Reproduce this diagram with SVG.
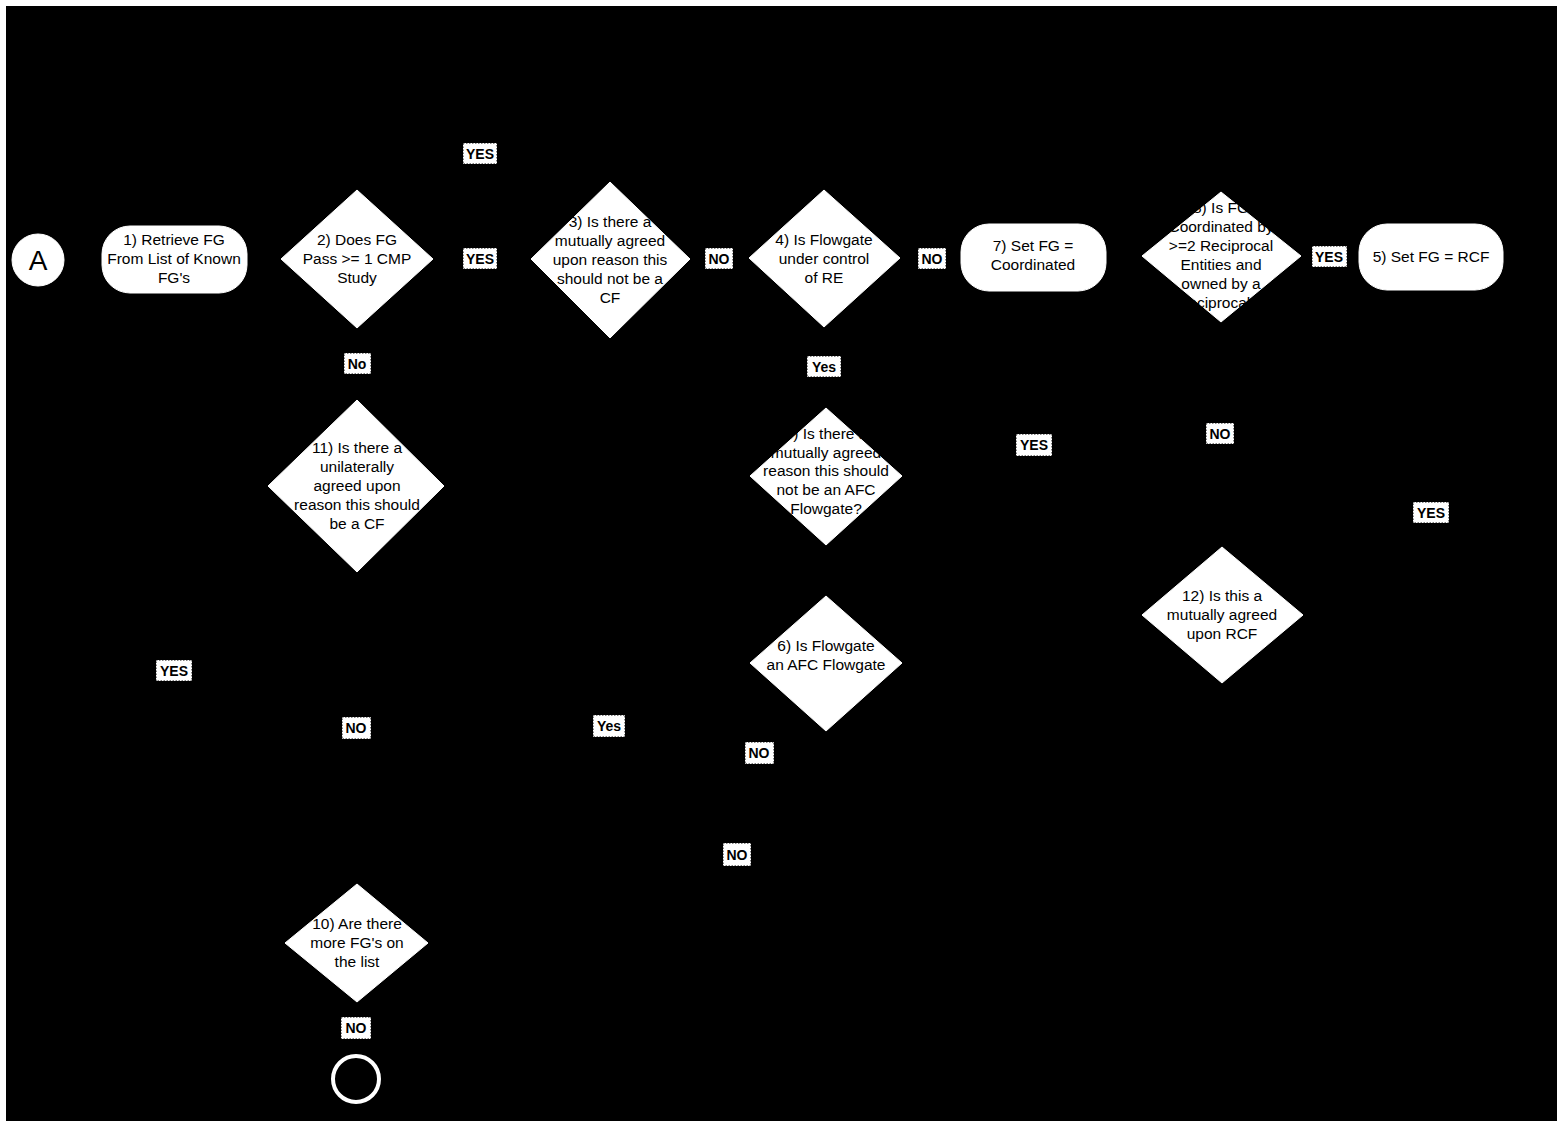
<svg xmlns="http://www.w3.org/2000/svg" width="1557" height="1121" viewBox="0 0 1557 1121">
<defs>
<style>
.bg{fill:#000}
.shape{fill:#fff;stroke:#fff;stroke-width:1}
.t{font-family:"Liberation Sans",Arial,sans-serif;font-size:15.5px;fill:#000;text-anchor:middle}
.lbl{fill:#fff;stroke:#000;stroke-width:1;stroke-dasharray:1.5 1.5}
.lt{font-family:"Liberation Sans",Arial,sans-serif;font-size:14px;font-weight:bold;fill:#000;text-anchor:middle}
.c{fill:none;stroke:#000;stroke-width:1.5}
</style>
<marker id="ah" markerWidth="8" markerHeight="8" refX="7" refY="4" orient="auto"><path d="M0,0 L8,4 L0,8 z" fill="#000"/></marker>
</defs>
<rect x="0" y="0" width="1557" height="1121" fill="#fff"/>
<rect class="bg" x="6" y="6" width="1551" height="1115"/>

<g id="connectors">
<path class="c" d="M64,260 L102,260" marker-end="url(#ah)"/>
<path class="c" d="M247,260 L281,260" marker-end="url(#ah)"/>
<path class="c" d="M433,259 L531,259" marker-end="url(#ah)"/>
<path class="c" d="M690,259 L749,259" marker-end="url(#ah)"/>
<path class="c" d="M900,258 L961,258" marker-end="url(#ah)"/>
<path class="c" d="M1106,257 L1142,257" marker-end="url(#ah)"/>
<path class="c" d="M1301,256 L1359,256" marker-end="url(#ah)"/>
<path class="c" d="M357,328 L357,400" marker-end="url(#ah)"/>
<path class="c" d="M823,327 L826,408" marker-end="url(#ah)"/>
<path class="c" d="M902,476 L1034,476 L1034,291" marker-end="url(#ah)"/>
<path class="c" d="M1221,322 L1222,547" marker-end="url(#ah)"/>
<path class="c" d="M1303,615 L1431,615 L1431,290" marker-end="url(#ah)"/>
<path class="c" d="M826,545 L826,596" marker-end="url(#ah)"/>
<path class="c" d="M357,572 L357,884" marker-end="url(#ah)"/>
<path class="c" d="M610,338 L610,800 L357,800" marker-end="url(#ah)"/>
<path class="c" d="M759,663 L759,854 L357,854" marker-end="url(#ah)"/>
<path class="c" d="M357,1002 L357,1055" marker-end="url(#ah)"/>
<path class="c" d="M285,943 L174,943 L174,293" marker-end="url(#ah)"/>
<path class="c" d="M444,486 L479,486 L479,153 L610,153 L610,182" marker-end="url(#ah)"/>
</g>

<g id="nodeA">
<circle class="shape" cx="38" cy="260" r="26"/>
<text class="t" x="38" y="270" style="font-size:28px">A</text>
</g>

<g id="node1">
<rect class="shape" x="102" y="226" width="145" height="67" rx="28"/>
<text class="t" x="174" y="245">1) Retrieve FG</text>
<text class="t" x="174" y="264">From List of Known</text>
<text class="t" x="174" y="283">FG's</text>
</g>

<g id="node2">
<polygon class="shape" points="357,190 433,259 357,328 281,259"/>
<text class="t" x="357" y="245">2) Does FG</text>
<text class="t" x="357" y="264">Pass &gt;= 1 CMP</text>
<text class="t" x="357" y="283">Study</text>
</g>

<g id="node3">
<polygon class="shape" points="610,182 690,259 610,338 531,259"/>
<text class="t" x="610" y="227">3) Is there a</text>
<text class="t" x="610" y="246">mutually agreed</text>
<text class="t" x="610" y="265">upon reason this</text>
<text class="t" x="610" y="284">should not be a</text>
<text class="t" x="610" y="303">CF</text>
</g>

<g id="node4">
<polygon class="shape" points="824,190 900,258 824,327 749,258"/>
<text class="t" x="824" y="245">4) Is Flowgate</text>
<text class="t" x="824" y="264">under control</text>
<text class="t" x="824" y="283">of RE</text>
</g>

<g id="node7">
<rect class="shape" x="961" y="224" width="145" height="67" rx="28"/>
<text class="t" x="1033" y="251">7) Set FG =</text>
<text class="t" x="1033" y="270">Coordinated</text>
</g>

<g id="node8">
<polygon class="shape" points="1221,192 1301,256 1221,322 1142,256"/>
<text class="t" x="1221" y="213">8) Is FG</text>
<text class="t" x="1221" y="232">Coordinated by</text>
<text class="t" x="1221" y="251">&gt;=2 Reciprocal</text>
<text class="t" x="1221" y="270">Entities and</text>
<text class="t" x="1221" y="289">owned by a</text>
<text class="t" x="1221" y="308">Reciprocal E</text>
</g>

<g id="node5">
<rect class="shape" x="1359" y="224" width="144" height="66" rx="28"/>
<text class="t" x="1431" y="262">5) Set FG = RCF</text>
</g>

<g id="node11">
<polygon class="shape" points="357,400 444,486 357,572 268,486"/>
<text class="t" x="357" y="453">11) Is there a</text>
<text class="t" x="357" y="472">unilaterally</text>
<text class="t" x="357" y="491">agreed upon</text>
<text class="t" x="357" y="510">reason this should</text>
<text class="t" x="357" y="529">be a CF</text>
</g>

<g id="node9">
<polygon class="shape" points="826,408 902,476 826,545 750,476"/>
<text class="t" x="826" y="439">9) Is there a</text>
<text class="t" x="826" y="458">mutually agreed</text>
<text class="t" x="826" y="476">reason this should</text>
<text class="t" x="826" y="495">not be an AFC</text>
<text class="t" x="826" y="514">Flowgate?</text>
</g>

<g id="node12">
<polygon class="shape" points="1222,547 1303,615 1222,683 1142,615"/>
<text class="t" x="1222" y="601">12) Is this a</text>
<text class="t" x="1222" y="620">mutually agreed</text>
<text class="t" x="1222" y="639">upon RCF</text>
</g>

<g id="node6">
<polygon class="shape" points="826,596 902,663 826,731 750,663"/>
<text class="t" x="826" y="651">6) Is Flowgate</text>
<text class="t" x="826" y="670">an AFC Flowgate</text>
</g>

<g id="node10">
<polygon class="shape" points="357,884 428,943 357,1002 285,943"/>
<text class="t" x="357" y="929">10) Are there</text>
<text class="t" x="357" y="948">more FG's on</text>
<text class="t" x="357" y="967">the list</text>
</g>

<g id="nodeEnd">
<circle cx="356" cy="1079" r="23" fill="#000" stroke="#fff" stroke-width="4"/>
</g>

<g id="labels">
<rect class="lbl" x="463" y="143" width="34" height="21"/><text class="lt" x="480" y="159">YES</text>
<rect class="lbl" x="463" y="248" width="34" height="21"/><text class="lt" x="480" y="264">YES</text>
<rect class="lbl" x="705" y="248" width="28" height="21"/><text class="lt" x="719" y="264">NO</text>
<rect class="lbl" x="918" y="248" width="28" height="21"/><text class="lt" x="932" y="264">NO</text>
<rect class="lbl" x="1312" y="246" width="35" height="21"/><text class="lt" x="1329" y="262">YES</text>
<rect class="lbl" x="344" y="353" width="27" height="21"/><text class="lt" x="357" y="369">No</text>
<rect class="lbl" x="807" y="356" width="34" height="21"/><text class="lt" x="824" y="372">Yes</text>
<rect class="lbl" x="1016" y="434" width="36" height="22"/><text class="lt" x="1034" y="450">YES</text>
<rect class="lbl" x="1206" y="423" width="28" height="21"/><text class="lt" x="1220" y="439">NO</text>
<rect class="lbl" x="1413" y="502" width="36" height="21"/><text class="lt" x="1431" y="518">YES</text>
<rect class="lbl" x="156" y="660" width="36" height="21"/><text class="lt" x="174" y="676">YES</text>
<rect class="lbl" x="342" y="717" width="29" height="22"/><text class="lt" x="356" y="733">NO</text>
<rect class="lbl" x="593" y="715" width="32" height="22"/><text class="lt" x="609" y="731">Yes</text>
<rect class="lbl" x="745" y="742" width="29" height="22"/><text class="lt" x="759" y="758">NO</text>
<rect class="lbl" x="723" y="843" width="28" height="23"/><text class="lt" x="737" y="860">NO</text>
<rect class="lbl" x="341" y="1017" width="30" height="22"/><text class="lt" x="356" y="1033">NO</text>
</g>
</svg>
